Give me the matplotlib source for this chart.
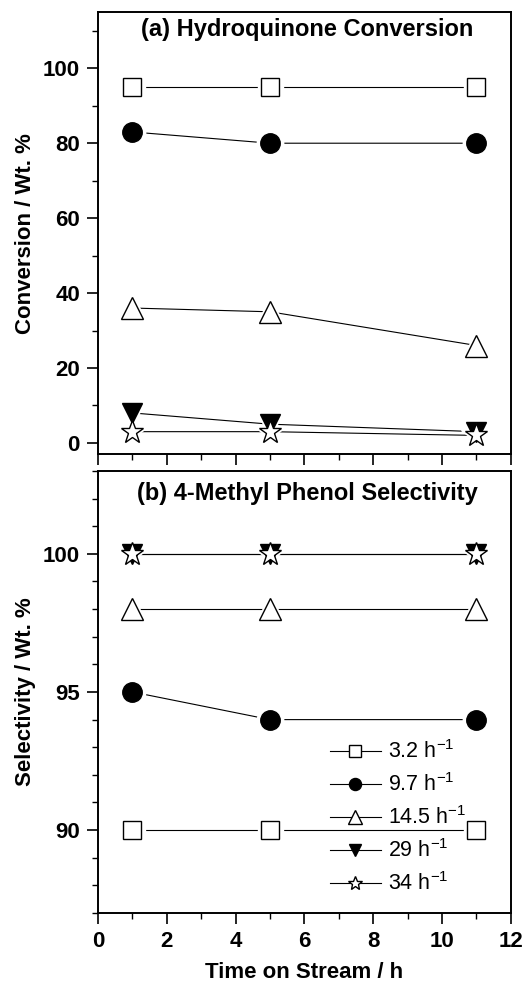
import numpy as np
import matplotlib.pyplot as plt
from matplotlib.ticker import MultipleLocator

plt.rcParams['font.family'] = ['Liberation Sans', 'DejaVu Sans']
plt.rcParams['mathtext.default'] = 'regular'

# time on stream (h) and the five space velocities
time_h = [1, 5, 11]
labels = ['3.2 h$^{-1}$', '9.7 h$^{-1}$', '14.5 h$^{-1}$', '29 h$^{-1}$', '34 h$^{-1}$']

# hydroquinone conversion, wt %
conv_32 = [95, 95, 95]
conv_97 = [83, 80, 80]
conv_145 = [36, 35, 26]
conv_29 = [8, 5, 3]
conv_34 = [3, 3, 2]

# 4-methyl phenol selectivity, wt %
sel_32 = [90, 90, 90]
sel_97 = [95, 94, 94]
sel_145 = [98, 98, 98]
sel_29 = [100, 100, 100]
sel_34 = [100, 100, 100]

styles = [
    dict(marker='s', mfc='white', ms=13),
    dict(marker='o', mfc='black', ms=14),
    dict(marker='^', mfc='white', ms=16),
    dict(marker='v', mfc='black', ms=15),
    dict(marker='*', mfc='white', ms=17),
]

fig = plt.figure(figsize=(5.24, 9.83), dpi=100)
ax1 = fig.add_axes([0.187, 0.538, 0.788, 0.4497])
ax2 = fig.add_axes([0.187, 0.0712, 0.788, 0.4497])


def draw(ax, series):
    for vals, st, lab in zip(series, styles, labels):
        # white halo leaves a small gap between line and symbol
        ax.plot(time_h, vals, ls='none', marker=st['marker'], ms=st['ms'] + 5,
                mfc='white', mec='white', zorder=3)
        ax.plot(time_h, vals, color='black', lw=0.8, zorder=2)
        ax.plot(time_h, vals, ls='none', marker=st['marker'], ms=st['ms'],
                mfc=st['mfc'], mec='black', mew=1.0, zorder=4)
        # legend handle
        ax.plot([], [], color='black', lw=0.8, marker=st['marker'],
                ms=st['ms'] * 0.62, mfc=st['mfc'], mec='black', label=lab)


draw(ax1, [conv_32, conv_97, conv_145, conv_29, conv_34])
draw(ax2, [sel_32, sel_97, sel_145, sel_29, sel_34])

ax1.set_ylim(-3, 115)
ax1.set_yticks([0, 20, 40, 60, 80, 100])
ax1.yaxis.set_minor_locator(MultipleLocator(10))
ax1.set_ylabel('Conversion / Wt. %', fontsize=16, fontweight='bold', labelpad=5)
ax1.text(0.506, 0.96, '(a) Hydroquinone Conversion', transform=ax1.transAxes,
         ha='center', va='center', fontsize=17, fontweight='bold')

ax2.set_ylim(87, 103)
ax2.set_yticks([90, 95, 100])
ax2.yaxis.set_minor_locator(MultipleLocator(1))
ax2.set_ylabel('Selectivity / Wt. %', fontsize=16, fontweight='bold', labelpad=5)
ax2.set_xlabel('Time on Stream / h', fontsize=16, fontweight='bold', labelpad=7)
ax2.text(0.506, 0.95, '(b) 4-Methyl Phenol Selectivity', transform=ax2.transAxes,
         ha='center', va='center', fontsize=17, fontweight='bold')

for ax in (ax1, ax2):
    ax.set_xlim(0, 12)
    ax.set_xticks([0, 2, 4, 6, 8, 10, 12])
    ax.xaxis.set_minor_locator(MultipleLocator(1))
    ax.tick_params(which='major', direction='out', length=8, width=1.2,
                   labelsize=16, pad=5)
    ax.tick_params(which='minor', direction='out', length=4.5, width=1.0)
    for sp in ax.spines.values():
        sp.set_linewidth(1.4)
    for t in ax.get_xticklabels() + ax.get_yticklabels():
        t.set_fontweight('bold')

ax1.tick_params(axis='x', labelbottom=False)

ax2.legend(loc='upper left', bbox_to_anchor=(0.54, 0.41), frameon=False,
           fontsize=15.5, handlelength=2.4, handletextpad=0.3, labelspacing=0.47,
           borderaxespad=0)

fig.savefig('out.png', dpi=100)
